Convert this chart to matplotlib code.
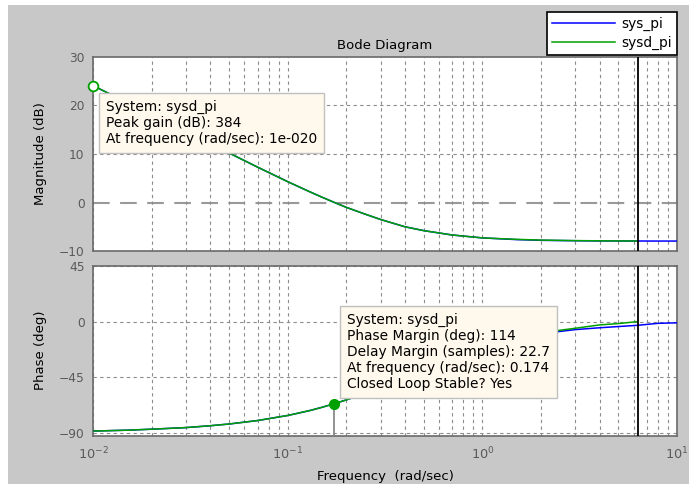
import matplotlib.pyplot as plt
from matplotlib.patches import Rectangle
from matplotlib.lines import Line2D

# frequencies (rad/sec)
freq = [0.01, 0.015, 0.02, 0.03, 0.04, 0.05, 0.07, 0.1, 0.13, 0.15, 0.174, 0.2,
        0.25, 0.3, 0.4, 0.5, 0.7, 1.0, 1.5, 2.0, 3.0, 4.0, 5.0, 6.28, 8.0, 10.0]
mag_pi = [24.1, 20.6, 18.1, 14.6, 12.1, 10.2, 7.3, 4.3, 2.2, 1.1, 0.0, -1.0,
          -2.4, -3.5, -5.0, -5.8, -6.7, -7.3, -7.65, -7.8, -7.88, -7.92, -7.93, -7.94, -7.95, -7.95]
phase_pi = [-88.6, -87.9, -87.1, -85.8, -84.3, -82.9, -80.1, -76.0, -72.0, -69.4, -66.4, -63.4,
            -58.0, -53.1, -45.0, -38.7, -29.7, -21.0, -13.5, -9.8, -6.5, -5.0, -4.0, -3.0, -1.4, -1.0]

# discrete system stops at the Nyquist frequency
freq_d = [0.01, 0.015, 0.02, 0.03, 0.04, 0.05, 0.07, 0.1, 0.13, 0.15, 0.174, 0.2,
          0.25, 0.3, 0.4, 0.5, 0.7, 1.0, 1.5, 2.0, 3.0, 4.0, 5.0, 6.28]
mag_d = [24.1, 20.6, 18.1, 14.6, 12.1, 10.2, 7.3, 4.3, 2.2, 1.1, 0.0, -1.0,
         -2.4, -3.5, -5.0, -5.8, -6.7, -7.3, -7.6, -7.75, -7.86, -7.9, -7.92, -7.93]
phase_d = [-88.6, -87.9, -87.1, -85.8, -84.3, -82.9, -80.1, -76.0, -72.0, -69.4, -66.4, -63.4,
           -58.0, -53.1, -45.0, -38.7, -29.7, -21.0, -13.0, -9.0, -5.4, -2.7, -1.6, 0.0]

nyquist = 6.28
peak_freq, peak_gain = 0.01, 24.1
pm_freq, pm_phase = 0.174, -66.4

mag_ticks = [30, 20, 10, 0, -10]
phase_ticks = [45, 0, -45, -90]

tip1 = "System: sysd_pi\nPeak gain (dB): 384\nAt frequency (rad/sec): 1e-020"
tip2 = ("System: sysd_pi\nPhase Margin (deg): 114\nDelay Margin (samples): 22.7\n"
        "At frequency (rad/sec): 0.174\nClosed Loop Stable? Yes")

W, H = 689, 484
FS = 9.5
TIPFS = 9.9
blue = '#0000ff'
green = '#00a000'
gridc = '#8c8c8c'
tickc = '#5a5a5a'


def box(l, t, r, b):
    return [l / W, 1 - b / H, (r - l) / W, (b - t) / H]


fig = plt.figure(figsize=(W / 100, H / 100), dpi=100)
fig.patch.set_facecolor('white')
fig.add_artist(Rectangle((8 / W, 0), 1 - 8 / W, 1 - 5 / H, transform=fig.transFigure,
                         facecolor='#c8c8c8', edgecolor='none', zorder=-10))

ax1 = fig.add_axes(box(93, 57, 677, 251))
ax2 = fig.add_axes(box(93, 266, 677, 435.5))

for ax in (ax1, ax2):
    ax.set_xscale('log')
    ax.set_xlim(0.01, 10)
    ax.set_facecolor('white')
    ax.grid(True, which='both', axis='x', color=gridc, linestyle=(0, (3, 3)), linewidth=0.8)
    ax.tick_params(which='both', length=0, colors=tickc, labelsize=8.8, pad=6)
    for s in ax.spines.values():
        s.set_color('#6a6a6a')
        s.set_linewidth(1.2)
    ax.axvline(nyquist, color='black', linewidth=1.3, zorder=4)

# magnitude
ax1.plot(freq, mag_pi, color=blue, linewidth=1.1, zorder=3)
ax1.plot(freq_d, mag_d, color=green, linewidth=1.1, zorder=3)
ax1.set_ylim(-10, 30)
ax1.set_yticks(mag_ticks)
ax1.tick_params(labelbottom=False)
for t in mag_ticks[1:-1]:
    if t == 0:
        ax1.axhline(t, color='#999999', linestyle=(0, (8, 5)), linewidth=1.5, zorder=1)
    else:
        ax1.axhline(t, color=gridc, linestyle=(0, (3, 3)), linewidth=0.8, zorder=1)
ax1.plot(peak_freq, peak_gain, 'o', markersize=7, markerfacecolor='white',
         markeredgecolor=green, markeredgewidth=1.3, clip_on=False, zorder=6)
ax1.set_ylabel("Magnitude (dB)", fontsize=FS)
ax1.yaxis.set_label_coords(-0.079, 0.5)
ax1.set_title("Bode Diagram", fontsize=FS, pad=6)

# phase
ax2.plot(freq, phase_pi, color=blue, linewidth=1.1, zorder=3)
ax2.plot(freq_d, phase_d, color=green, linewidth=1.1, zorder=3)
ax2.set_ylim(-92.2, 45)
ax2.set_yticks(phase_ticks)
ax2.grid(True, which='major', axis='y', color=gridc, linestyle=(0, (3, 3)), linewidth=0.8)
ax2.vlines(pm_freq, -92.2, pm_phase, color='#808080', linewidth=1.2, zorder=4)
ax2.plot(pm_freq, pm_phase, 'o', markersize=7, color=green, zorder=6)
ax2.set_ylabel("Phase (deg)", fontsize=FS)
ax2.yaxis.set_label_coords(-0.079, 0.5)
ax2.set_xlabel("Frequency  (rad/sec)", fontsize=FS, labelpad=6)
ax2.tick_params(axis='x', labelsize=9.3, pad=7)

# data tips
tipbox = dict(boxstyle='square,pad=0.5', facecolor='#fff8ec', edgecolor='#c0c0c0', linewidth=1)
fig.text(106 / W, 1 - 123 / H, tip1, fontsize=TIPFS, va='center', ha='left',
         linespacing=1.2, bbox=tipbox, zorder=10)
fig.text(347 / W, 1 - 352 / H, tip2, fontsize=TIPFS, va='center', ha='left',
         linespacing=1.2, bbox=tipbox, zorder=10)

# legend
handles = [Line2D([], [], color=blue, linewidth=1.1), Line2D([], [], color=green, linewidth=1.1)]
leg = fig.legend(handles, ["sys_pi", "sysd_pi"], loc='upper right',
                 bbox_to_anchor=(677 / W, 1 - 12 / H), borderaxespad=0, fontsize=9.9,
                 handlelength=4.6, handletextpad=0.45, borderpad=0.35, labelspacing=0.35,
                 fancybox=False, framealpha=1, edgecolor='black')
leg.get_frame().set_linewidth(1.2)
leg.set_zorder(20)

plt.savefig("out.png", dpi=100)
